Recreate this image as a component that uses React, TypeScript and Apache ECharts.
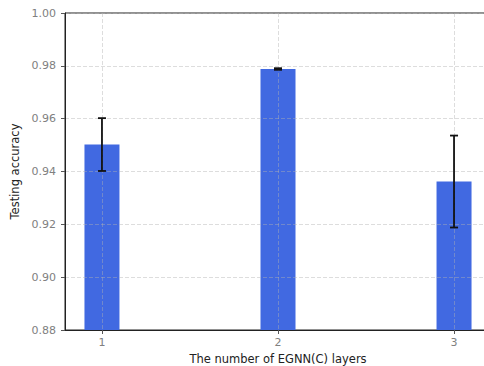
import React, { useEffect, useRef } from "react";
import * as echarts from "echarts";

// Mean testing accuracy and its spread per number of EGNN(C) layers
const layers = [1, 2, 3];
const accuracy = [0.9502, 0.9788, 0.9362];
const accuracyErr = [0.0100, 0.0003, 0.0174];
const yTicks = [0.88, 0.9, 0.92, 0.94, 0.96, 0.98, 1.0];

const FONT = "DejaVu Sans";
const GRID_LINE = {
  show: true,
  lineStyle: { color: "rgba(176,176,176,0.55)", type: [4, 2] as number[], width: 0.8 },
};

export default function App() {
  const ref = useRef<HTMLDivElement>(null);

  useEffect(() => {
    if (!ref.current) return;
    const chart = echarts.init(ref.current, undefined, { renderer: "svg" });

    const barData = layers.map((l, i) => [l, accuracy[i]]);
    const errData = layers.map((l, i) => [l, accuracy[i] - accuracyErr[i], accuracy[i] + accuracyErr[i]]);

    chart.setOption({
      animation: false,
      grid: {
        left: 65,
        top: 13,
        width: 426,
        height: 317,
        outerBoundsMode: "none",
        containLabel: false,
        show: true,
        borderColor: "#222",
        borderWidth: 1,
        backgroundColor: "transparent",
      },
      xAxis: {
        type: "value",
        min: 0.79,
        max: 3.21,
        z: 3,
        name: "The number of EGNN(C) layers",
        nameLocation: "middle",
        nameGap: 21,
        nameTextStyle: { color: "#222", fontFamily: FONT, fontSize: 11.5 },
        axisLine: { show: true, lineStyle: { color: "#222", width: 1 } },
        axisTick: { show: true, length: 4, lineStyle: { color: "#555" }, customValues: layers },
        axisLabel: {
          color: "#808080",
          fontFamily: FONT,
          fontSize: 11,
          margin: 7,
          customValues: layers,
          formatter: (v: number) => String(v),
        },
        splitLine: GRID_LINE,
      },
      yAxis: {
        type: "value",
        min: 0.88,
        max: 1.0,
        interval: 0.02,
        z: 3,
        name: "Testing accuracy",
        nameLocation: "middle",
        nameGap: 37,
        nameTextStyle: { color: "#222", fontFamily: FONT, fontSize: 11.5 },
        axisLine: { show: true, lineStyle: { color: "#222", width: 1 } },
        axisTick: { show: true, length: 4, lineStyle: { color: "#555" }, customValues: yTicks },
        axisLabel: {
          color: "#808080",
          fontFamily: FONT,
          fontSize: 11,
          margin: 9,
          customValues: yTicks,
          formatter: (v: number) => v.toFixed(2),
        },
        splitLine: GRID_LINE,
      },
      series: [
        {
          type: "bar",
          data: barData,
          barWidth: 35,
          z: 2,
          itemStyle: { color: "#4169E1" },
        },
        {
          type: "custom",
          z: 5,
          data: errData,
          renderItem: (_params: any, api: any) => {
            const x = api.value(0);
            const lo = api.coord([x, api.value(1)]);
            const hi = api.coord([x, api.value(2)]);
            const cap = 4;
            const style = { stroke: "#111", lineWidth: 1.8 };
            return {
              type: "group",
              children: [
                { type: "line", shape: { x1: lo[0], y1: lo[1], x2: hi[0], y2: hi[1] }, style },
                { type: "line", shape: { x1: hi[0] - cap, y1: hi[1], x2: hi[0] + cap, y2: hi[1] }, style },
                { type: "line", shape: { x1: lo[0] - cap, y1: lo[1], x2: lo[0] + cap, y2: lo[1] }, style },
              ],
            };
          },
        },
      ],
    });

    return () => chart.dispose();
  }, []);

  return <div ref={ref} style={{ width: 484, height: 366, position: "absolute", left: 0, top: 0 }} />;
}
